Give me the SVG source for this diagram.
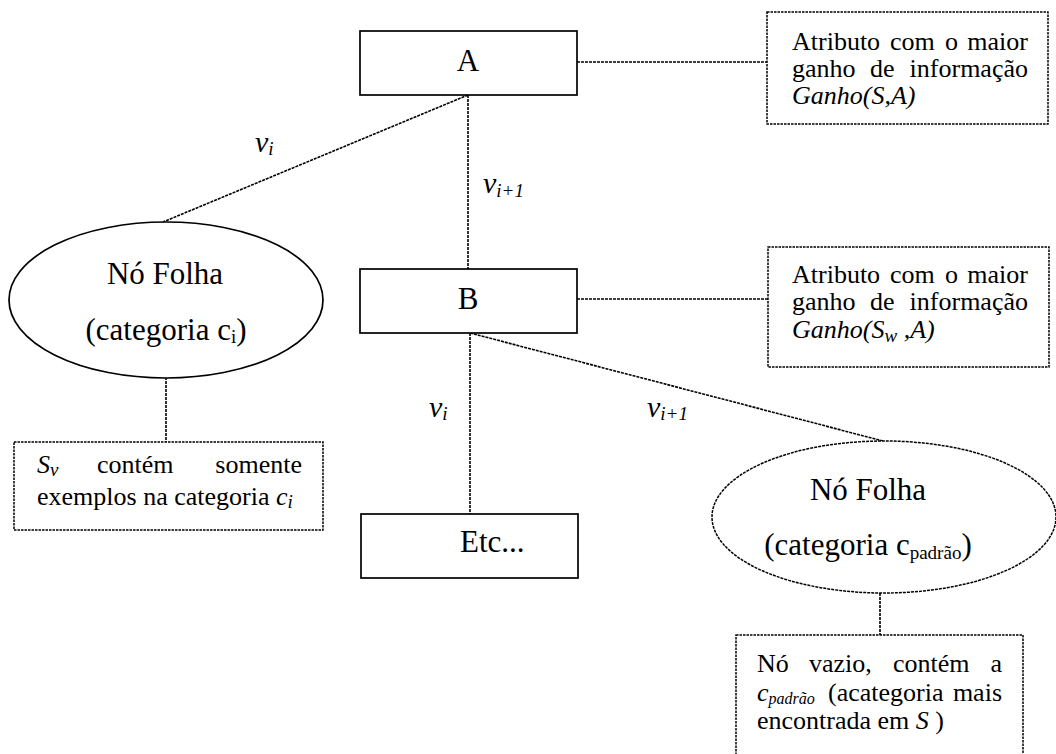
<svg xmlns="http://www.w3.org/2000/svg" width="1056" height="754" viewBox="0 0 1056 754" font-family="'Liberation Serif', 'Times New Roman', 'DejaVu Serif', serif">
<style>
text{font-family:'Liberation Serif','Times New Roman','DejaVu Serif',serif;fill:#000}
.node{fill:#fff;stroke:#000;stroke-width:1.7}
.dnode{fill:#fff;stroke:#000;stroke-width:1.5;stroke-dasharray:3 1}
.note{fill:#fff;stroke:#000;stroke-width:1.5;stroke-dasharray:2.5 1}
.conn{fill:none;stroke:#000;stroke-width:1.6;stroke-dasharray:3 1}
.nt{font-size:31px}
.an{font-size:26px}
.lb{font-size:30px;font-style:italic}
.sub{font-size:19px}
.sm{font-size:16px}
.it{font-style:italic}
</style>
<rect width="1056" height="754" fill="#fff"/>
<g id="connectors">
<line class="conn" x1="577" y1="62" x2="767" y2="62"/>
<line class="conn" x1="468" y1="95" x2="163" y2="222"/>
<line class="conn" x1="468" y1="95" x2="468" y2="269"/>
<line class="conn" x1="577" y1="299" x2="768" y2="299"/>
<line class="conn" x1="166" y1="377" x2="166" y2="442"/>
<line class="conn" x1="470" y1="333" x2="470" y2="514"/>
<line class="conn" x1="470" y1="333" x2="883" y2="441"/>
<line class="conn" x1="880" y1="593" x2="880" y2="635"/>
</g>
<g id="edge-labels">
<text class="lb" x="255" y="152">v<tspan class="sub" dy="3">i</tspan></text>
<text class="lb" x="483" y="193">v<tspan class="sub" dy="4">i+1</tspan></text>
<text class="lb" x="429" y="417">v<tspan class="sub" dy="3">i</tspan></text>
<text class="lb" x="647" y="417">v<tspan class="sub" dy="3">i+1</tspan></text>
</g>
<g id="node-A">
<rect class="node" x="360" y="31" width="217" height="64"/>
<text class="nt" x="468" y="71" text-anchor="middle">A</text>
</g>
<g id="note-A">
<rect class="note" x="767" y="12" width="281" height="112"/>
<text class="an" y="50"><tspan x="792">Atributo</tspan><tspan x="890">com</tspan><tspan x="945">o</tspan><tspan x="1028" text-anchor="end">maior</tspan></text>
<text class="an" y="77"><tspan x="792">ganho</tspan><tspan x="870">de</tspan><tspan x="1028" text-anchor="end">informação</tspan></text>
<text class="an it" x="792" y="104">Ganho(S,A)</text>
</g>
<g id="node-B">
<rect class="node" x="360" y="269" width="217" height="64"/>
<text class="nt" x="468" y="309" text-anchor="middle">B</text>
</g>
<g id="note-B">
<rect class="note" x="768" y="247" width="281" height="120"/>
<text class="an" y="283"><tspan x="792">Atributo</tspan><tspan x="890">com</tspan><tspan x="945">o</tspan><tspan x="1028" text-anchor="end">maior</tspan></text>
<text class="an" y="310"><tspan x="792">ganho</tspan><tspan x="870">de</tspan><tspan x="1028" text-anchor="end">informação</tspan></text>
<text class="an it" x="792" y="338">Ganho(S<tspan class="sub" dy="4">w</tspan><tspan dy="-4"> ,A)</tspan></text>
</g>
<g id="leaf-left">
<ellipse class="node" cx="166" cy="300" rx="157" ry="78"/>
<text class="nt" x="165" y="284" text-anchor="middle">Nó Folha</text>
<text class="nt" x="166" y="340" text-anchor="middle">(categoria c<tspan class="sub" dy="3">i</tspan><tspan dy="-3">)</tspan></text>
</g>
<g id="note-left">
<rect class="note" x="14" y="442" width="309" height="88"/>
<text class="an" y="473"><tspan x="37" class="it">S</tspan><tspan class="sub it" dy="3">v</tspan><tspan x="97" dy="-3">contém</tspan><tspan x="302" text-anchor="end">somente</tspan></text>
<text class="an" x="37" y="505">exemplos na categoria <tspan class="it">c</tspan><tspan class="sub it" dy="3">i</tspan></text>
</g>
<g id="node-etc">
<rect class="node" x="361" y="514" width="217" height="64"/>
<text class="nt" x="460" y="552">Etc...</text>
</g>
<g id="leaf-right">
<ellipse class="dnode" cx="884" cy="517" rx="172" ry="76"/>
<text class="nt" x="868" y="500" text-anchor="middle">Nó Folha</text>
<text class="nt" x="868" y="555" text-anchor="middle">(categoria c<tspan class="sub" dy="4">padrão</tspan><tspan dy="-4">)</tspan></text>
</g>
<g id="note-right">
<rect class="note" x="736" y="635" width="287" height="130"/>
<text class="an" y="672"><tspan x="757">Nó</tspan><tspan x="809">vazio,</tspan><tspan x="893">contém</tspan><tspan x="1002" text-anchor="end">a</tspan></text>
<text class="an" y="701"><tspan x="757" class="it">c</tspan><tspan class="sm it" dy="3">padrão</tspan><tspan x="828" dy="-3">(acategoria</tspan><tspan x="1002" text-anchor="end">mais</tspan></text>
<text class="an" x="757" y="729">encontrada em <tspan class="it">S</tspan> )</text>
</g>
</svg>
